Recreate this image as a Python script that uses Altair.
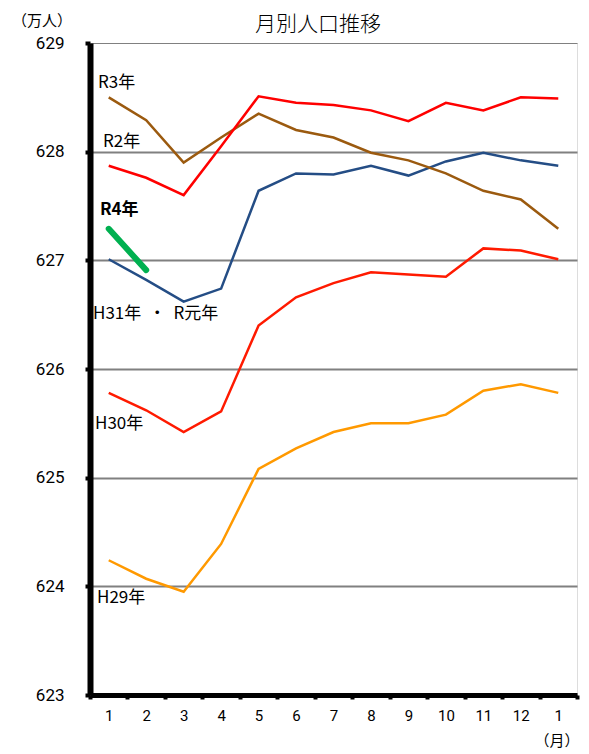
import altair as alt
import pandas as pd

months = list(range(1, 14))
month_labels = ["1", "2", "3", "4", "5", "6", "7", "8", "9", "10", "11", "12", "1"]

h29 = [624.24, 624.07, 623.95, 624.39, 625.08, 625.27, 625.42, 625.50, 625.50, 625.58, 625.80, 625.86, 625.78]
h30 = [625.78, 625.62, 625.42, 625.61, 626.40, 626.66, 626.79, 626.89, 626.87, 626.85, 627.11, 627.09, 627.01]
h31 = [627.01, 626.82, 626.62, 626.74, 627.64, 627.80, 627.79, 627.87, 627.78, 627.91, 627.99, 627.92, 627.87]
r2 = [628.50, 628.29, 627.90, 628.13, 628.35, 628.20, 628.13, 627.99, 627.92, 627.80, 627.64, 627.56, 627.29]
r3 = [627.87, 627.76, 627.60, 628.05, 628.51, 628.45, 628.43, 628.38, 628.28, 628.45, 628.38, 628.50, 628.49]
r4 = [627.29, 626.91]

series_names = ["H29", "H30", "H31", "R2", "R3"]
series_values = [h29, h30, h31, r2, r3]
series_colors = ["#ff9900", "#ff1a00", "#244d85", "#9b5a0f", "#ff0000"]

rows = []
for name, vals in zip(series_names, series_values):
    for m, v in zip(months, vals):
        rows.append({"series": name, "m": m, "v": v})
df = pd.DataFrame(rows)
df4 = pd.DataFrame({"series": "R4", "m": months[:2], "v": r4})

label_texts = ["R3年", "R2年", "R4年", "H31年\u00a0\u00a0・\u00a0\u00a0R元年", "H30年", "H29年"]
label_yvals = [628.63, 628.09, 627.46, 626.51, 625.49, 623.89]
label_dx = [8, 13, 10, 3, 5, 7]
label_bold = [False, False, True, False, False, False]

FONT = "Noto Sans CJK JP"

xenc = alt.X(
    "m:O",
    title=None,
    scale=alt.Scale(paddingInner=0, paddingOuter=0, domain=months),
    axis=alt.Axis(
        labelExpr="datum.value == 13 ? '1' : datum.value",
        labelAngle=0,
        domainColor="black",
        domainWidth=5,
        tickColor="black",
        tickWidth=4,
        tickSize=4,
        tickBand="extent",
        labelPadding=9,
        labelFontSize=15,
        labelFont="Roboto",
        labelColor="black",
        grid=False,
    ),
)
yscale = alt.Scale(domain=[623, 629], nice=False, zero=False)
yenc = alt.Y(
    "v:Q",
    title=None,
    scale=yscale,
    axis=alt.Axis(
        values=[623, 624, 625, 626, 627, 628, 629],
        format="d",
        domainColor="black",
        domainWidth=6,
        tickColor="black",
        tickWidth=4,
        tickSize=5,
        labelPadding=21,
        labelFontSize=17,
        labelFont="Roboto",
        labelColor="black",
        grid=True,
        gridColor="#808080",
        gridWidth={"condition": {"test": "datum.value == 629", "value": 1}, "value": 2},
    ),
)

lines = alt.Chart(df).mark_line(strokeWidth=2.5).encode(
    x=xenc,
    y=yenc,
    color=alt.Color("series:N", scale=alt.Scale(domain=series_names, range=series_colors), legend=None),
    detail="series:N",
)

green = alt.Chart(df4).mark_line(strokeWidth=6, strokeCap="round", color="#00b050").encode(
    x=alt.X("m:O"), y=alt.Y("v:Q")
)

layers = [lines, green]
for t, yv, dx, b in zip(label_texts, label_yvals, label_dx, label_bold):
    layers.append(
        alt.Chart(pd.DataFrame({"t": [t]})).mark_text(
            align="left", baseline="middle", fontSize=17, font=FONT,
            fontWeight="bold" if b else "normal", color="black"
        ).encode(x=alt.value(dx), y=alt.Y(datum=yv), text="t:N")
    )

title_t = alt.Chart(pd.DataFrame({"t": ["月別人口推移"]})).mark_text(
    align="center", baseline="middle", fontSize=21, font=FONT, fontWeight=300, color="black"
).encode(x=alt.value(228), y=alt.value(-18), text="t:N")
unit_t = alt.Chart(pd.DataFrame({"t": ["（万人）"]})).mark_text(
    align="center", baseline="middle", fontSize=15, font=FONT, color="black"
).encode(x=alt.value(-48), y=alt.value(-22), text="t:N")
month_t = alt.Chart(pd.DataFrame({"t": ["（月）"]})).mark_text(
    align="center", baseline="middle", fontSize=15, font=FONT, color="black"
).encode(x=alt.value(467), y=alt.value(698), text="t:N")

layers += [title_t, unit_t, month_t]

chart = alt.layer(*layers).properties(
    width=487,
    height=652,
    autosize=alt.AutoSizeParams(type="none"),
    padding={"left": 82, "top": 35, "right": 4, "bottom": 58},
).configure_view(stroke="#808080", strokeWidth=1).configure(background="white")

chart.save("out.html", embed_options={"renderer": "svg", "actions": False})
